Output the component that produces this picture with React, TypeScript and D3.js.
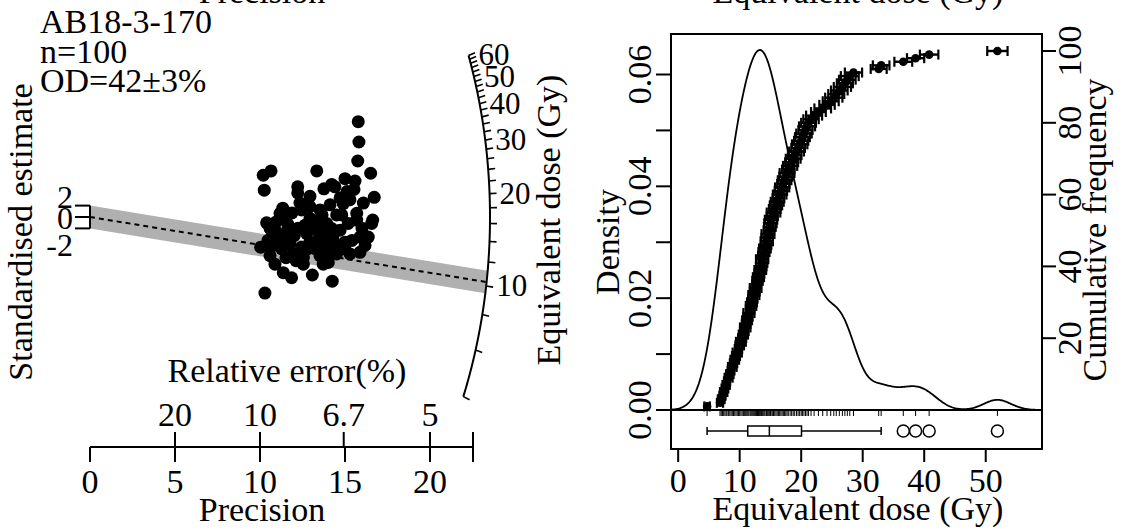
import React from 'react';
import * as d3 from 'd3';

const W = 1126;
const H = 531;
const FONT = '"Liberation Serif", "Times New Roman", Times, serif';

// ---------- left panel: radial plot data ----------
const sampleLines = ['AB18-3-170', 'n=100', 'OD=42±3%'];
const precision = [
  15.78, 15.82, 15.75, 10.19, 10.65, 13.34, 16.51, 10.25, 12.22, 12.22,
  12.94, 13.76, 14.22, 14.41, 15.0, 15.59, 15.53, 14.71, 16.72, 12.35,
  14.9, 16.08, 11.34, 11.18, 12.94, 13.53, 12.45, 14.51, 14.81, 15.69,
  16.63, 16.57, 10.39, 11.63, 12.94, 13.34, 13.92, 14.22, 15.19, 15.69,
  10.59, 10.98, 11.57, 12.02, 12.75, 13.34, 13.92, 14.71, 15.88, 16.37,
  10.69, 11.18, 12.94, 14.02, 15.0, 10.04, 10.63, 11.28, 12.45, 13.34,
  15.0, 15.88, 10.59, 11.96, 12.55, 13.53, 14.02, 14.51, 15.29, 10.88,
  12.55, 13.72, 14.02, 11.37, 11.86, 13.08, 14.25, 10.29, 11.47, 11.88,
  12.65, 13.12, 13.65, 14.12, 15.29, 15.12, 16.0, 15.41, 14.59, 11.76,
  10.94, 10.47, 12.24, 14.29, 16.18, 13.41, 12.82, 12.12, 14.0, 11.53,
];
const zScore = [
  16.73, 13.16, 9.82, 7.32, 8.09, 8.09, 7.68, 4.7, 5.3, 4.23,
  3.63, 4.95, 5.71, 5.3, 6.73, 6.3, 4.82, 3.34, 3.45, 2.45,
  2.32, 2.45, 1.55, 0.66, 1.84, 1.25, 1.25, 0.36, 0.36, 0.66,
  -0.54, -1.13, -1.02, -1.25, -0.23, -0.84, -1.13, -2.02, -1.13, -0.54,
  -2.02, -2.63, -2.63, -3.21, -2.91, -2.32, -2.91, -2.32, -3.52, -3.52,
  -3.52, -4.11, -4.41, -4.41, -4.41, -5.3, -5.3, -5.59, -5.3, -5.3,
  -5.59, -6.2, -6.79, -6.48, -7.09, -6.79, -7.09, -6.48, -6.48, -8.27,
  -8.27, -8.27, -7.98, -9.77, -10.66, -10.18, -11.25, -13.34, -0.18, 0.71,
  -1.43, -1.96, 0.36, 2.14, 3.04, 4.46, -1.96, -4.11, -5.18, -4.64,
  -0.89, -4.11, -1.96, -3.75, -5.0, -4.11, -5.54, -7.68, -5.89, -7.14,
];
const referenceDose = 16.8; // dose of the horizontal ray (z = 0)
const centralDose = 10.3; // dose of the dashed central line
const arcTicks = [4, 6, 8, 10, 12, 14, 16, 18, 20, 22, 24, 26, 28, 30, 32, 34, 36, 38, 40, 42, 44, 46, 48, 50, 52, 54, 56, 58, 60];
const arcLabels = [10, 20, 30, 40, 50, 60];
const precisionTicks = [0, 5, 10, 15, 20];
const relErrorTicks = [20, 10, 6.7, 5];
const relErrorLabels = ['20', '10', '6.7', '5'];
const zTicks = [-2, 0, 2];
const precisionMax = 22.53;

// ---------- right panel: KDE / cumulative data ----------
const doses = [
  4.7, 6.8, 7.0, 7.2, 7.4, 7.6, 7.8, 7.95,
  8.2, 8.4, 8.6, 8.8,
  9.0, 9.2, 9.4, 9.6, 9.8,
  10.0, 10.2, 10.4, 10.6, 10.75, 10.9,
  11.05, 11.2, 11.35, 11.5, 11.7, 11.85,
  12.0, 12.15, 12.3, 12.45, 12.6, 12.75, 12.9,
  13.05, 13.2, 13.35, 13.5, 13.6, 13.65, 13.8, 13.95,
  14.1, 14.3, 14.4, 14.45, 14.6, 14.75, 14.9,
  15.0, 15.1, 15.3, 15.5, 15.7, 15.9,
  16.1, 16.3, 16.5, 16.7, 16.9,
  17.1, 17.3, 17.5, 17.7, 17.9,
  18.2, 18.45, 18.7, 18.95,
  19.25, 19.5, 19.75, 20.0, 20.2,
  20.45, 20.7, 20.95, 21.2, 21.6,
  22.1, 22.8,
  23.5, 24.2,
  24.8, 25.3, 25.7,
  26.2, 26.7,
  27.1, 27.5, 27.9,
  28.5,
  32.6, 33.0,
  36.6, 38.6, 40.8, 51.9,
];
const doseErrors = [
  0.45, 0.5, 0.55, 0.5, 0.6, 0.55, 0.6, 0.5,
  0.65, 0.6, 0.55, 0.7,
  0.6, 0.7, 0.65, 0.75, 0.6,
  0.7, 0.8, 0.65, 0.75, 0.7, 0.85,
  0.7, 0.8, 0.75, 0.9, 0.7, 0.85,
  0.8, 0.75, 0.9, 0.8, 0.95, 0.7, 0.85,
  0.9, 0.8, 0.95, 0.85, 0.9, 1.0, 0.8, 0.9,
  0.95, 0.85, 1.0, 0.9, 1.05, 0.85, 0.95,
  1.0, 1.0, 0.9, 1.1, 0.95, 1.0,
  1.05, 0.95, 1.1, 1.0, 1.15,
  1.0, 1.1, 1.05, 1.2, 1.0,
  1.15, 1.05, 1.2, 1.1,
  1.2, 1.1, 1.25, 1.15, 1.2,
  1.25, 1.15, 1.3, 1.2, 1.25,
  1.3, 1.2,
  1.35, 1.25,
  1.3, 1.4, 1.3,
  1.35, 1.4,
  1.3, 1.35, 1.45,
  1.4,
  1.3, 1.35,
  1.45, 1.4, 1.5, 1.65,
];
const bandwidth = 2.2;
const doseDomain = [-1.166, 59.15];
const doseTicks = [0, 10, 20, 30, 40, 50];
const densityTicks = [0, 0.01, 0.02, 0.03, 0.04, 0.05, 0.06];
const densityLabels = [0, 0.02, 0.04, 0.06];
const cumTicks = [20, 40, 60, 80, 100];

function Label(props: any) {
  const { x, y, rotate, anchor = 'middle', size = 34, children } = props;
  const tr = rotate ? `translate(${x},${y}) rotate(${rotate})` : `translate(${x},${y})`;
  return (
    <text transform={tr} textAnchor={anchor} fontSize={size} fontFamily={FONT} fill="#000">
      {children}
    </text>
  );
}

function RadialPanel() {
  const xP = d3.scaleLinear().domain([0, precisionMax]).range([90, 473]);
  const yZ = d3.scaleLinear().domain([-2, 2]).range([228.4, 205.6]);
  const zLabelY = d3.scaleLinear().domain([-2, 0, 2]).range([245, 218, 197]);
  const ox = xP(0);
  const oy = yZ(0);
  const pxP = xP(1) - xP(0);
  const pxZ = yZ(0) - yZ(1);
  const rx = 400;
  const ry = 500;
  const lnRef = Math.log(referenceDose);

  const arcPoint = (D: number) => {
    const m = Math.log(D) - lnRef;
    const vx = pxP;
    const vy = -pxZ * m;
    const t = 1 / Math.sqrt((vx / rx) ** 2 + (vy / ry) ** 2);
    const len = Math.sqrt(vx * vx + vy * vy);
    return { x: ox + vx * t, y: oy + vy * t, ux: vx / len, uy: vy / len };
  };

  const arcSamples = d3.range(0, 201).map((i) => arcTicks[0] * Math.pow(arcTicks[arcTicks.length - 1] / arcTicks[0], i / 200));
  const arcPath = d3.line<number>().x((d) => arcPoint(d).x).y((d) => arcPoint(d).y)(arcSamples) as string;

  const mC = Math.log(centralDose) - lnRef;
  const a = pxP / rx;
  const b = pxZ / ry;
  const endP = (c: number) => {
    const A = a * a + b * b * mC * mC;
    const B = 2 * b * b * mC * c;
    const C = b * b * c * c - 1;
    return (-B + Math.sqrt(B * B - 4 * A * C)) / (2 * A);
  };
  const pTop = endP(2);
  const pBot = endP(-2);
  const pMid = endP(0);
  const band = [
    [xP(0), yZ(2)],
    [xP(pTop), yZ(mC * pTop + 2)],
    [xP(pBot), yZ(mC * pBot - 2)],
    [xP(0), yZ(-2)],
  ];

  const axisY = 447;
  return (
    <g>
      {sampleLines.map((s, i) => (
        <Label key={s} x={40} y={33 + i * 29.5} anchor="start">{s}</Label>
      ))}
      <Label x={32} y={232} rotate={-90}>Standardised estimate</Label>
      <Label x={560} y={220} rotate={-90}>Equivalent dose (Gy)</Label>

      <polygon points={band.map((p) => p.join(',')).join(' ')} fill="#b0b0b0" stroke="none" />
      <line x1={xP(0)} y1={yZ(0)} x2={xP(pMid)} y2={yZ(mC * pMid)} stroke="#000" strokeWidth={2} strokeDasharray="5,4" />

      {/* z axis */}
      <line x1={ox} y1={yZ(-2)} x2={ox} y2={yZ(2)} stroke="#000" strokeWidth={2} />
      {zTicks.map((z) => (
        <line key={z} x1={ox} x2={ox - 15} y1={yZ(z)} y2={yZ(z)} stroke="#000" strokeWidth={2} />
      ))}
      {zTicks.map((z) => (
        <Label key={'l' + z} x={73} y={zLabelY(z) + 11} anchor="end" size={32}>{String(z)}</Label>
      ))}

      {/* points */}
      {precision.map((p, i) => (
        <circle key={i} cx={xP(p)} cy={yZ(zScore[i])} r={6.5} fill="#000" />
      ))}

      {/* arc */}
      <path d={arcPath} fill="none" stroke="#000" strokeWidth={2} />
      {arcTicks.map((D) => {
        const pt = arcPoint(D);
        return <line key={D} x1={pt.x} y1={pt.y} x2={pt.x + pt.ux * 7} y2={pt.y + pt.uy * 7} stroke="#000" strokeWidth={1.6} />;
      })}
      {arcLabels.map((D) => {
        const pt = arcPoint(D);
        return <Label key={D} x={pt.x + 10} y={pt.y + 10} anchor="start" size={31}>{String(D)}</Label>;
      })}

      {/* precision axis */}
      <line x1={xP(0)} x2={xP(precisionMax)} y1={axisY} y2={axisY} stroke="#000" strokeWidth={2} />
      {precisionTicks.map((p) => (
        <g key={p}>
          <line x1={xP(p)} x2={xP(p)} y1={axisY} y2={axisY + 15} stroke="#000" strokeWidth={2} />
          <Label x={xP(p)} y={493}>{String(p)}</Label>
        </g>
      ))}
      {relErrorTicks.map((r, i) => (
        <g key={r}>
          <line x1={xP(100 / r)} x2={xP(100 / r)} y1={axisY} y2={axisY - 15} stroke="#000" strokeWidth={2} />
          <Label x={xP(100 / r)} y={426}>{relErrorLabels[i]}</Label>
        </g>
      ))}
      <line x1={xP(precisionMax)} x2={xP(precisionMax)} y1={axisY - 15} y2={axisY + 15} stroke="#000" strokeWidth={2} />
      <Label x={287} y={382}>Relative error(%)</Label>
      <Label x={262} y={521}>Precision</Label>
      <Label x={262} y={3}>Precision</Label>
    </g>
  );
}

function KdePanel() {
  const xD = d3.scaleLinear().domain(doseDomain).range([671, 1042]);
  const yDen = d3.scaleLinear().domain([0, 0.06]).range([410, 74.5]);
  const yCum = d3.scaleLinear().domain([0, 100]).range([410, 51]);
  const n = doses.length;
  const kern = (u: number) => Math.exp(-0.5 * u * u) / Math.sqrt(2 * Math.PI);
  const grid = d3.range(0, 401).map((i) => doseDomain[0] + ((doseDomain[1] - doseDomain[0]) * i) / 400);
  const dens = grid.map((g) => [g, d3.sum(doses, (d) => kern((g - d) / bandwidth)) / (n * bandwidth)] as [number, number]);
  const densPath = d3.line<[number, number]>().x((d) => xD(d[0])).y((d) => yDen(d[1]))(dens) as string;

  const sorted = doses.map((d, i) => ({ d, e: doseErrors[i] })).sort((p, q) => p.d - q.d);
  const vals = sorted.map((s) => s.d);
  const q1 = d3.quantile(vals, 0.25) as number;
  const med = d3.quantile(vals, 0.5) as number;
  const q3 = d3.quantile(vals, 0.75) as number;
  const iqr = q3 - q1;
  const wLo = d3.min(vals.filter((v) => v >= q1 - 1.5 * iqr)) as number;
  const wHi = d3.max(vals.filter((v) => v <= q3 + 1.5 * iqr)) as number;
  const outliers = vals.filter((v) => v < wLo || v > wHi);

  const left = 671, right = 1042, top = 34, bottom = 449, base = 410;
  const bc = 431;
  return (
    <g>
      <path d={densPath} fill="none" stroke="#000" strokeWidth={1.8} />
      {sorted.map((s, i) => {
        const y = yCum(i + 1);
        return (
          <g key={i}>
            <line x1={xD(s.d - s.e)} x2={xD(s.d + s.e)} y1={y} y2={y} stroke="#000" strokeWidth={2.4} />
            <line x1={xD(s.d - s.e)} x2={xD(s.d - s.e)} y1={y - 5} y2={y + 5} stroke="#000" strokeWidth={2.2} />
            <line x1={xD(s.d + s.e)} x2={xD(s.d + s.e)} y1={y - 5} y2={y + 5} stroke="#000" strokeWidth={2.2} />
            <circle cx={xD(s.d)} cy={y} r={4.3} fill="#000" />
          </g>
        );
      })}
      <line x1={left} x2={right} y1={base} y2={base} stroke="#000" strokeWidth={2} />
      {vals.map((v, i) => (
        <line key={i} x1={xD(v)} x2={xD(v)} y1={base} y2={base + 6} stroke="#000" strokeWidth={1} />
      ))}
      {/* boxplot */}
      <line x1={xD(wLo)} x2={xD(q1)} y1={bc} y2={bc} stroke="#000" strokeWidth={1.5} />
      <line x1={xD(q3)} x2={xD(wHi)} y1={bc} y2={bc} stroke="#000" strokeWidth={1.5} />
      <line x1={xD(wLo)} x2={xD(wLo)} y1={bc - 4} y2={bc + 4} stroke="#000" strokeWidth={1.5} />
      <line x1={xD(wHi)} x2={xD(wHi)} y1={bc - 4} y2={bc + 4} stroke="#000" strokeWidth={1.5} />
      <rect x={xD(q1)} y={bc - 5} width={xD(q3) - xD(q1)} height={10} fill="none" stroke="#000" strokeWidth={1.5} />
      <line x1={xD(med)} x2={xD(med)} y1={bc - 5} y2={bc + 5} stroke="#000" strokeWidth={1.5} />
      {outliers.map((v, i) => (
        <circle key={i} cx={xD(v)} cy={bc} r={6} fill="none" stroke="#000" strokeWidth={1.5} />
      ))}
      <rect x={left} y={top} width={right - left} height={bottom - top} fill="none" stroke="#000" strokeWidth={2} />

      {/* x axis */}
      {doseTicks.map((t) => (
        <g key={t}>
          <line x1={xD(t)} x2={xD(t)} y1={bottom} y2={bottom + 13} stroke="#000" strokeWidth={2} />
          <Label x={xD(t)} y={492}>{String(t)}</Label>
        </g>
      ))}
      <Label x={858} y={520}>Equivalent dose (Gy)</Label>
      <Label x={858} y={3}>Equivalent dose (Gy)</Label>

      {/* density axis */}
      {densityTicks.map((t) => (
        <line key={t} x1={left} x2={left - 15} y1={yDen(t)} y2={yDen(t)} stroke="#000" strokeWidth={2} />
      ))}
      {densityLabels.map((t) => (
        <Label key={t} x={651} y={yDen(t)} rotate={-90}>{t.toFixed(2)}</Label>
      ))}
      <Label x={619} y={242} rotate={-90}>Density</Label>

      {/* cumulative axis */}
      {cumTicks.map((t) => (
        <g key={t}>
          <line x1={right} x2={right + 14} y1={yCum(t)} y2={yCum(t)} stroke="#000" strokeWidth={2} />
          <Label x={1081} y={yCum(t)} rotate={-90}>{String(t)}</Label>
        </g>
      ))}
      <Label x={1106} y={230} rotate={-90}>Cumulative frequency</Label>
    </g>
  );
}

export default function App() {
  return (
    <svg width={W} height={H} viewBox={`0 0 ${W} ${H}`} style={{ position: 'absolute', left: 0, top: 0, background: '#fff' }}>
      <rect x={0} y={0} width={W} height={H} fill="#fff" />
      <RadialPanel />
      <KdePanel />
    </svg>
  );
}
